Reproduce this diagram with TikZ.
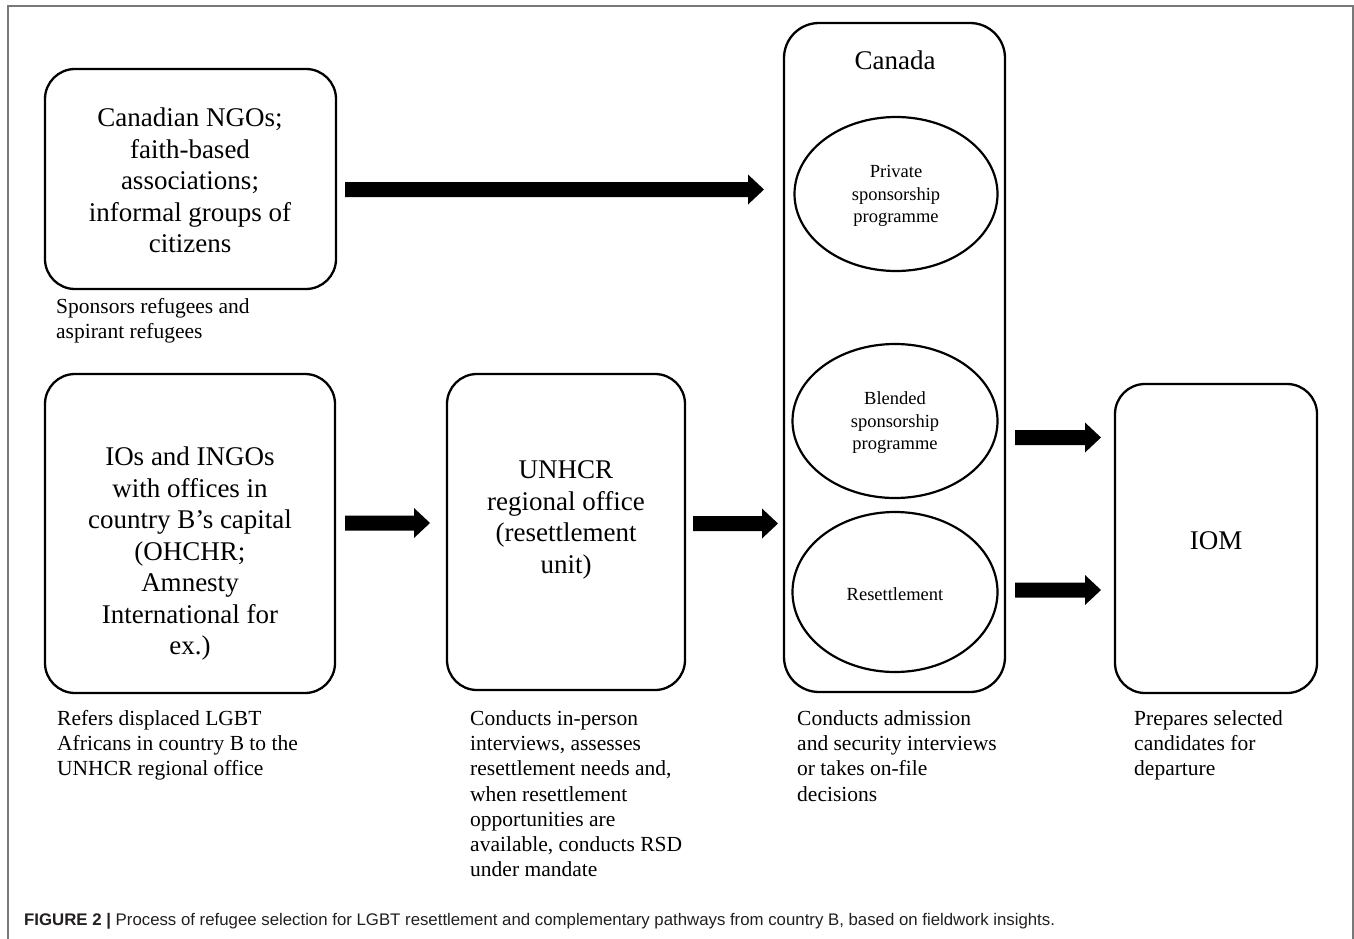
\documentclass[tikz,border=0pt]{standalone}
\usepackage{fontspec}
\setmainfont{Liberation Serif}
\newfontfamily\capfont{Liberation Sans}
\usetikzlibrary{calc,shapes.geometric}
\definecolor{framegray}{RGB}{120,120,120}
\definecolor{captext}{RGB}{35,31,32}
\tikzset{
  box/.style={draw, line width=2.3pt, rounded corners=30pt, inner sep=0pt},
  boxtext/.style={align=center, font=\fontsize{27}{31.5}\selectfont, inner sep=0pt},
  oval/.style={draw, ellipse, line width=2.2pt, inner sep=0pt},
  ovaltext/.style={align=center, font=\fontsize{18.5}{22.5}\selectfont, inner sep=0pt},
  note/.style={align=left, anchor=north west, font=\fontsize{21.5}{25.3}\selectfont, inner sep=0pt},
  blockarrow/.style={fill=black, draw=none, to path={
    let \p1=(\tikztostart), \p2=(\tikztotarget) in
    (\x1,\y1+7.5pt) -- (\x2-16pt,\y1+7.5pt) -- (\x2-16pt,\y1+15pt) -- (\x2,\y1)
    -- (\x2-16pt,\y1-15pt) -- (\x2-16pt,\y1-7.5pt) -- (\x1,\y1-7.5pt) -- cycle}}
}
\begin{document}
\begin{tikzpicture}[x=1pt,y=-1pt]
\useasboundingbox (0,0) rectangle (1354,939);
\fill[white] (0,0) rectangle (1354,939);
\draw[framegray, line width=1.8pt] (8,939) -- (8,6) -- (1353,6) -- (1353,939);

% boxes
\node[box, minimum width=291pt, minimum height=220pt] (b1) at (190.5,179) {};
\node[boxtext] (b1t) at (190,180.5) {Canadian NGOs;\\ faith-based\\ associations;\\ informal groups of\\ citizens};
\node[box, minimum width=290pt, minimum height=319pt] (b2) at (190,533.5) {};
\node[boxtext] (b2t) at (190,554) {IOs and INGOs\\ with offices in\\ country B’s capital\\ (OHCHR;\\ Amnesty\\ International for\\ ex.)};
\node[box, minimum width=238pt, minimum height=316pt] (b3) at (566,532) {};
\node[boxtext] (b3t) at (566,520) {UNHCR\\ regional office\\ (resettlement\\ unit)};
\node[box, rounded corners=35pt, minimum width=221pt, minimum height=669pt] (ca) at (894.5,357.5) {};
\node[boxtext] (cat) at (895,60) {Canada};
\node[box, minimum width=202pt, minimum height=309pt] (iom) at (1216,538.5) {};
\node[boxtext] (iomt) at (1216,541) {IOM};

% ovals
\node[oval, minimum width=203pt, minimum height=154pt] (e1) at (896,194) {};
\node[ovaltext] (e1t) at (896,196) {Private\\ sponsorship\\ programme};
\node[oval, minimum width=205pt, minimum height=154pt] (e2) at (895,421) {};
\node[ovaltext] (e2t) at (895,423) {Blended\\ sponsorship\\ programme};
\node[oval, minimum width=205pt, minimum height=160pt] (e3) at (895,592) {};
\node[ovaltext] (e3t) at (895,594) {Resettlement};

% notes
\node[note] (n1) at (56,298) {Sponsors refugees and\\ aspirant refugees};
\node[note] (n2) at (57,710) {Refers displaced LGBT\\ Africans in country B to the\\ UNHCR regional office};
\node[note] (n3) at (470,710) {Conducts in-person\\ interviews, assesses\\ resettlement needs and,\\ when resettlement\\ opportunities are\\ available, conducts RSD\\ under mandate};
\node[note] (n4) at (797,710) {Conducts admission\\ and security interviews\\ or takes on-file\\ decisions};
\node[note] (n5) at (1134,710) {Prepares selected\\ candidates for\\ departure};

% arrows
\coordinate (a1s) at (345,189.5); \coordinate (a1e) at (764,189.5);
\coordinate (a2s) at (345,523);   \coordinate (a2e) at (430,523);
\coordinate (a3s) at (693,523.5); \coordinate (a3e) at (778,523.5);
\coordinate (a4s) at (1015,437.5);\coordinate (a4e) at (1101,437.5);
\coordinate (a5s) at (1015,590);  \coordinate (a5e) at (1101,590);
\path[blockarrow] (a1s) to (a1e);
\path[blockarrow] (a2s) to (a2e);
\path[blockarrow] (a3s) to (a3e);
\path[blockarrow] (a4s) to (a4e);
\path[blockarrow] (a5s) to (a5e);

% caption
\node[anchor=west, inner sep=0pt, text=captext, font=\capfont\fontsize{16.8}{20}\selectfont] (cap) at (24,921)
  {\textbf{FIGURE 2 |} Process of refugee selection for LGBT resettlement and complementary pathways from country B, based on fieldwork insights.};
\end{tikzpicture}
\end{document}
